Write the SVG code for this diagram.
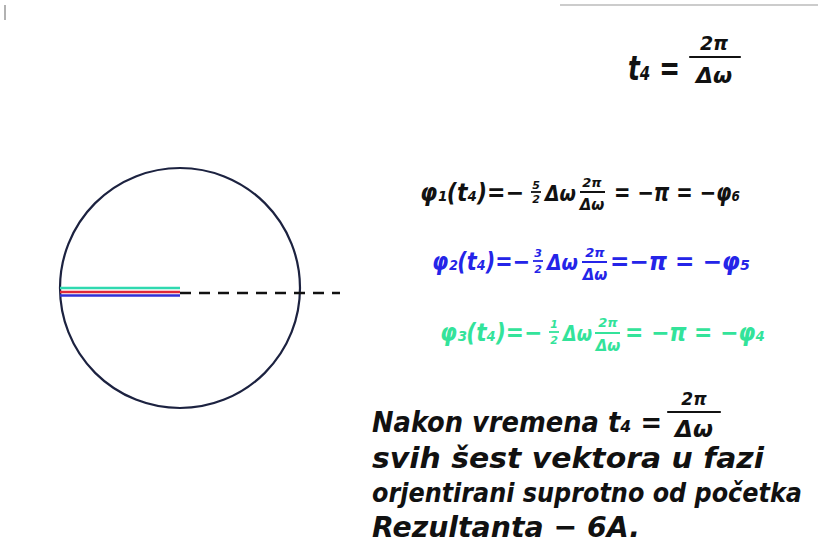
<svg xmlns="http://www.w3.org/2000/svg" width="818" height="550" viewBox="0 0 818 550">
<style>
.h{font-family:"DejaVu Sans","Noto Sans",sans-serif;font-style:oblique;font-weight:bold}
.k{fill:#111}
.b{fill:#2424e8}
.g{fill:#33e39a}
.fr{stroke-width:2.2;stroke-linecap:round}
</style>
<rect width="818" height="550" fill="#fff"/>
<line x1="560" y1="5" x2="818" y2="5" stroke="#bbb" stroke-width="1.5"/>
<line x1="5" y1="5" x2="5" y2="20" stroke="#999" stroke-width="1.5"/>

<g id="circle">
<circle cx="180" cy="288" r="120" fill="none" stroke="#1c2240" stroke-width="2.2"/>
</g>
<g id="vectors">
<line x1="60" y1="288" x2="180" y2="288" stroke="#2fd9b0" stroke-width="2.5"/>
<line x1="60" y1="292" x2="180" y2="292" stroke="#e0283a" stroke-width="2.5"/>
<line x1="60" y1="295.5" x2="180" y2="295.5" stroke="#3030d8" stroke-width="2.5"/>
<line x1="180" y1="293" x2="340" y2="293" stroke="#111" stroke-width="2.5" stroke-dasharray="11,8"/>
</g>

<g id="t4">
<text class="h k" x="628" y="80" font-size="34" textLength="52" lengthAdjust="spacingAndGlyphs">t₄ =</text>
<text class="h k" x="714" y="50" font-size="19" text-anchor="middle">2π</text>
<line class="fr" x1="690" y1="57" x2="740" y2="57" stroke="#111"/>
<text class="h k" x="714" y="83" font-size="22" text-anchor="middle">Δω</text>
</g>

<g id="eq1">
<text class="h k" x="420" y="201" font-size="24" textLength="104" lengthAdjust="spacingAndGlyphs">φ₁(t₄)=−</text>
<text class="h k" x="536" y="189" font-size="11" text-anchor="middle">5</text>
<line x1="531" y1="192" x2="541" y2="192" stroke="#111" stroke-width="1.8"/>
<text class="h k" x="536" y="203" font-size="11" text-anchor="middle">2</text>
<text class="h k" x="545" y="201" font-size="22" textLength="31" lengthAdjust="spacingAndGlyphs">Δω</text>
<text class="h k" x="592" y="187" font-size="13" text-anchor="middle">2π</text>
<line x1="580" y1="192" x2="605" y2="192" stroke="#111" stroke-width="2"/>
<text class="h k" x="592" y="210" font-size="15" text-anchor="middle">Δω</text>
<text class="h k" x="614" y="201" font-size="24" textLength="126" lengthAdjust="spacingAndGlyphs">= −π = −φ₆</text>
</g>

<g id="eq2">
<text class="h b" x="432" y="270" font-size="24" textLength="98" lengthAdjust="spacingAndGlyphs">φ₂(t₄)=−</text>
<text class="h b" x="538" y="257" font-size="11" text-anchor="middle">3</text>
<line x1="533" y1="261" x2="543" y2="261" stroke="#2424e8" stroke-width="1.8"/>
<text class="h b" x="538" y="273" font-size="11" text-anchor="middle">2</text>
<text class="h b" x="547" y="270" font-size="22" textLength="31" lengthAdjust="spacingAndGlyphs">Δω</text>
<text class="h b" x="595" y="257" font-size="13" text-anchor="middle">2π</text>
<line x1="582" y1="262" x2="607" y2="262" stroke="#2424e8" stroke-width="2"/>
<text class="h b" x="595" y="280" font-size="15" text-anchor="middle">Δω</text>
<text class="h b" x="610" y="270" font-size="24" textLength="140" lengthAdjust="spacingAndGlyphs">=−π = −φ₅</text>
</g>

<g id="eq3">
<text class="h g" x="440" y="341" font-size="24" textLength="102" lengthAdjust="spacingAndGlyphs">φ₃(t₄)=−</text>
<text class="h g" x="554" y="328" font-size="11" text-anchor="middle">1</text>
<line x1="549" y1="332" x2="559" y2="332" stroke="#33e39a" stroke-width="1.8"/>
<text class="h g" x="554" y="344" font-size="11" text-anchor="middle">2</text>
<text class="h g" x="563" y="341" font-size="22" textLength="29" lengthAdjust="spacingAndGlyphs">Δω</text>
<text class="h g" x="608" y="327" font-size="13" text-anchor="middle">2π</text>
<line x1="595" y1="333" x2="620" y2="333" stroke="#33e39a" stroke-width="2"/>
<text class="h g" x="608" y="351" font-size="15" text-anchor="middle">Δω</text>
<text class="h g" x="625" y="341" font-size="24" textLength="140" lengthAdjust="spacingAndGlyphs">= −π = −φ₄</text>
</g>

<g id="conclusion">
<text class="h k" x="372" y="432" font-size="29" textLength="290" lengthAdjust="spacingAndGlyphs">Nakon vremena t₄ =</text>
<text class="h k" x="694" y="405" font-size="17" text-anchor="middle">2π</text>
<line class="fr" x1="668" y1="412" x2="720" y2="412" stroke="#111"/>
<text class="h k" x="694" y="437" font-size="23" text-anchor="middle">Δω</text>
<text class="h k" x="372" y="468" font-size="29" textLength="392" lengthAdjust="spacingAndGlyphs">svih šest vektora u fazi</text>
<text class="h k" x="372" y="502" font-size="27" textLength="430" lengthAdjust="spacingAndGlyphs">orjentirani suprotno od početka</text>
<text class="h k" x="372" y="537" font-size="29" textLength="268" lengthAdjust="spacingAndGlyphs">Rezultanta − 6A.</text>
</g>
</svg>
